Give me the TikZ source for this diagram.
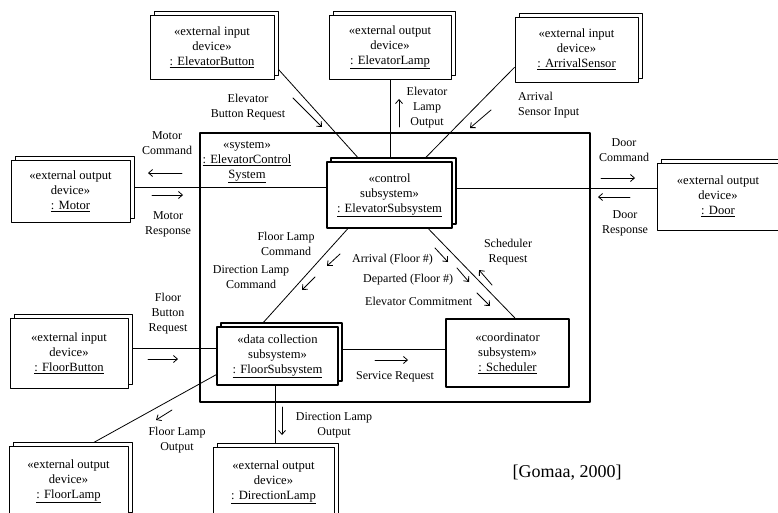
\documentclass[tikz,border=0pt]{standalone}
\usepackage{fontspec}
\setmainfont{Liberation Serif}
\usetikzlibrary{shadows,backgrounds,arrows.meta}

\begin{document}
\begin{tikzpicture}[x=1pt,y=-1pt,line cap=round,line join=round,
  >={Straight Barb[length=4pt,width=7pt]},
  every node/.style={font=\fontsize{12}{15}\selectfont},
  dev/.style={draw,fill=white,line width=0.8pt,inner sep=0pt,align=center,
    font=\fontsize{12.6}{15}\selectfont,
    copy shadow={shadow xshift=4pt,shadow yshift=4pt}},
  sub/.style={dev,line width=2pt},
  conn/.style={line width=0.8pt},
  msg/.style={->,line width=0.8pt},
  lbl/.style={align=center,inner sep=0pt}]
\useasboundingbox (0,0) rectangle (778,513);
\clip (0,0) rectangle (778,513);

% system boundary
\node[draw,line width=2.4pt,minimum width=390pt,minimum height=269pt] (sys) at (395,267.5) {};
\node[lbl,font=\fontsize{12.6}{15}\selectfont] (syslbl) at (247,162) {«system»\\\underline{: ElevatorControl}\\\underline{System}};

% external devices
\node[dev,minimum width=124pt,minimum height=64pt] (ebtn) at (212,47) {«external input\\device»\\\underline{: ElevatorButton}};
\node[dev,minimum width=122pt,minimum height=64pt] (elamp) at (390,47) {«external output\\device»\\\underline{: ElevatorLamp}};
\node[dev,minimum width=123pt,minimum height=65pt] (asens) at (576.5,49.5) {«external input\\device»\\\underline{: ArrivalSensor}};
\node[dev,minimum width=119pt,minimum height=62pt] (motor) at (70.5,191) {«external output\\device»\\\underline{: Motor}};
\node[dev,minimum width=121pt,minimum height=67pt] (door) at (718,196.5) {«external output\\device»\\\underline{: Door}};
\node[dev,minimum width=118pt,minimum height=70pt] (fbtn) at (69,353) {«external input\\device»\\\underline{: FloorButton}};
\node[dev,minimum width=119pt,minimum height=70pt] (flamp) at (68.5,481) {«external output\\device»\\\underline{: FloorLamp}};
\node[dev,minimum width=121pt,minimum height=70pt] (dlamp) at (273.5,482) {«external output\\device»\\\underline{: DirectionLamp}};

% subsystems
\node[sub,minimum width=125pt,minimum height=66pt] (esub) at (389.5,195) {«control\\subsystem»\\\underline{: ElevatorSubsystem}};
\node[sub,minimum width=121pt,minimum height=58pt] (fsub) at (277.5,356) {«data collection\\subsystem»\\\underline{: FloorSubsystem}};
\node[draw,fill=white,line width=2pt,inner sep=0pt,align=center,font=\fontsize{12.6}{15}\selectfont,minimum width=123pt,minimum height=68pt] (sched) at (507.5,353) {«coordinator\\subsystem»\\\underline{: Scheduler}};

% links
\begin{scope}[on background layer]
\draw[conn] (ebtn.-16) -- (esub.130);
\draw[conn] (elamp.south) -- (elamp.south |- esub.north);
\draw[conn] (asens.196) -- (esub.46);
\draw[conn] ([yshift=4pt]motor.east) -- ([yshift=4pt]motor.east -| esub.west);
\draw[conn] ([yshift=7pt]esub.east) -- ([yshift=7pt]esub.east -| door.west);
\draw[conn] (esub.219) -- (fsub.120);
\draw[conn] (esub.-41) -- (sched.78);
\draw[conn] ([yshift=5pt]fbtn.east) -- ([yshift=5pt]fbtn.east -| fsub.west);
\draw[conn] ([yshift=7pt]fsub.east) -- ([yshift=7pt]fsub.east -| sched.west);
\draw[conn] (fsub.197) -- (flamp.61);
\draw[conn] ([xshift=-2pt]fsub.south) -- ([xshift=-2pt]fsub.south |- dlamp.north);
\end{scope}

% messages
\draw[msg] (293,98) -- (322,127);
\node[lbl] (mebr) at (248,107) {Elevator\\Button Request};
\draw[msg] (399,127) -- (399,99);
\node[lbl] (melo) at (427,108) {Elevator\\Lamp\\Output};
\draw[msg] (491,110) -- (470,128);
\node[lbl,align=left,anchor=west] (masi) at (518,105) {Arrival\\Sensor Input};
\draw[msg] (182,173) -- (148,173);
\node[lbl] (mmc) at (167,143) {Motor\\Command};
\draw[msg] (152,195) -- (183,195);
\node[lbl] (mmr) at (168,224) {Motor\\Response};
\draw[msg] (601,178) -- (635,178);
\node[lbl] (mdc) at (624,150) {Door\\Command};
\draw[msg] (630,197) -- (598,197);
\node[lbl] (mdr) at (625,223) {Door\\Response};
\draw[msg] (340,254) -- (327,266);
\node[lbl] (mflc) at (286,244) {Floor Lamp\\Command};
\draw[msg] (315,277) -- (302,290);
\node[lbl] (mdlc) at (251,277) {Direction Lamp\\Command};
\draw[msg] (435,248) -- (448,262);
\node[lbl,anchor=west] (marr) at (352,260) {Arrival (Floor \#)};
\draw[msg] (457,268) -- (469,282);
\node[lbl,anchor=west] (mdep) at (363,280) {Departed (Floor \#)};
\draw[msg] (477,293) -- (490,306);
\node[lbl,anchor=west] (mcom) at (365,301) {Elevator Commitment};
\draw[msg] (492,285) -- (479,270);
\node[lbl] (msr) at (508,252) {Scheduler\\Request};
\draw[msg] (148,359) -- (178,359);
\node[lbl] (mfbr) at (168,314) {Floor\\Button\\Request};
\draw[msg] (375,360) -- (408,360);
\node[lbl] (msvr) at (395,377) {Service Request};
\draw[msg] (172,410) -- (156,420);
\node[lbl] (mflo) at (177,440) {Floor Lamp\\Output};
\draw[msg] (282,407) -- (282,435);
\node[lbl] (mdlo) at (334,425) {Direction Lamp\\Output};

\node[font=\fontsize{18}{20}\selectfont] (cite) at (567,473) {[Gomaa, 2000]};
\end{tikzpicture}
\end{document}
